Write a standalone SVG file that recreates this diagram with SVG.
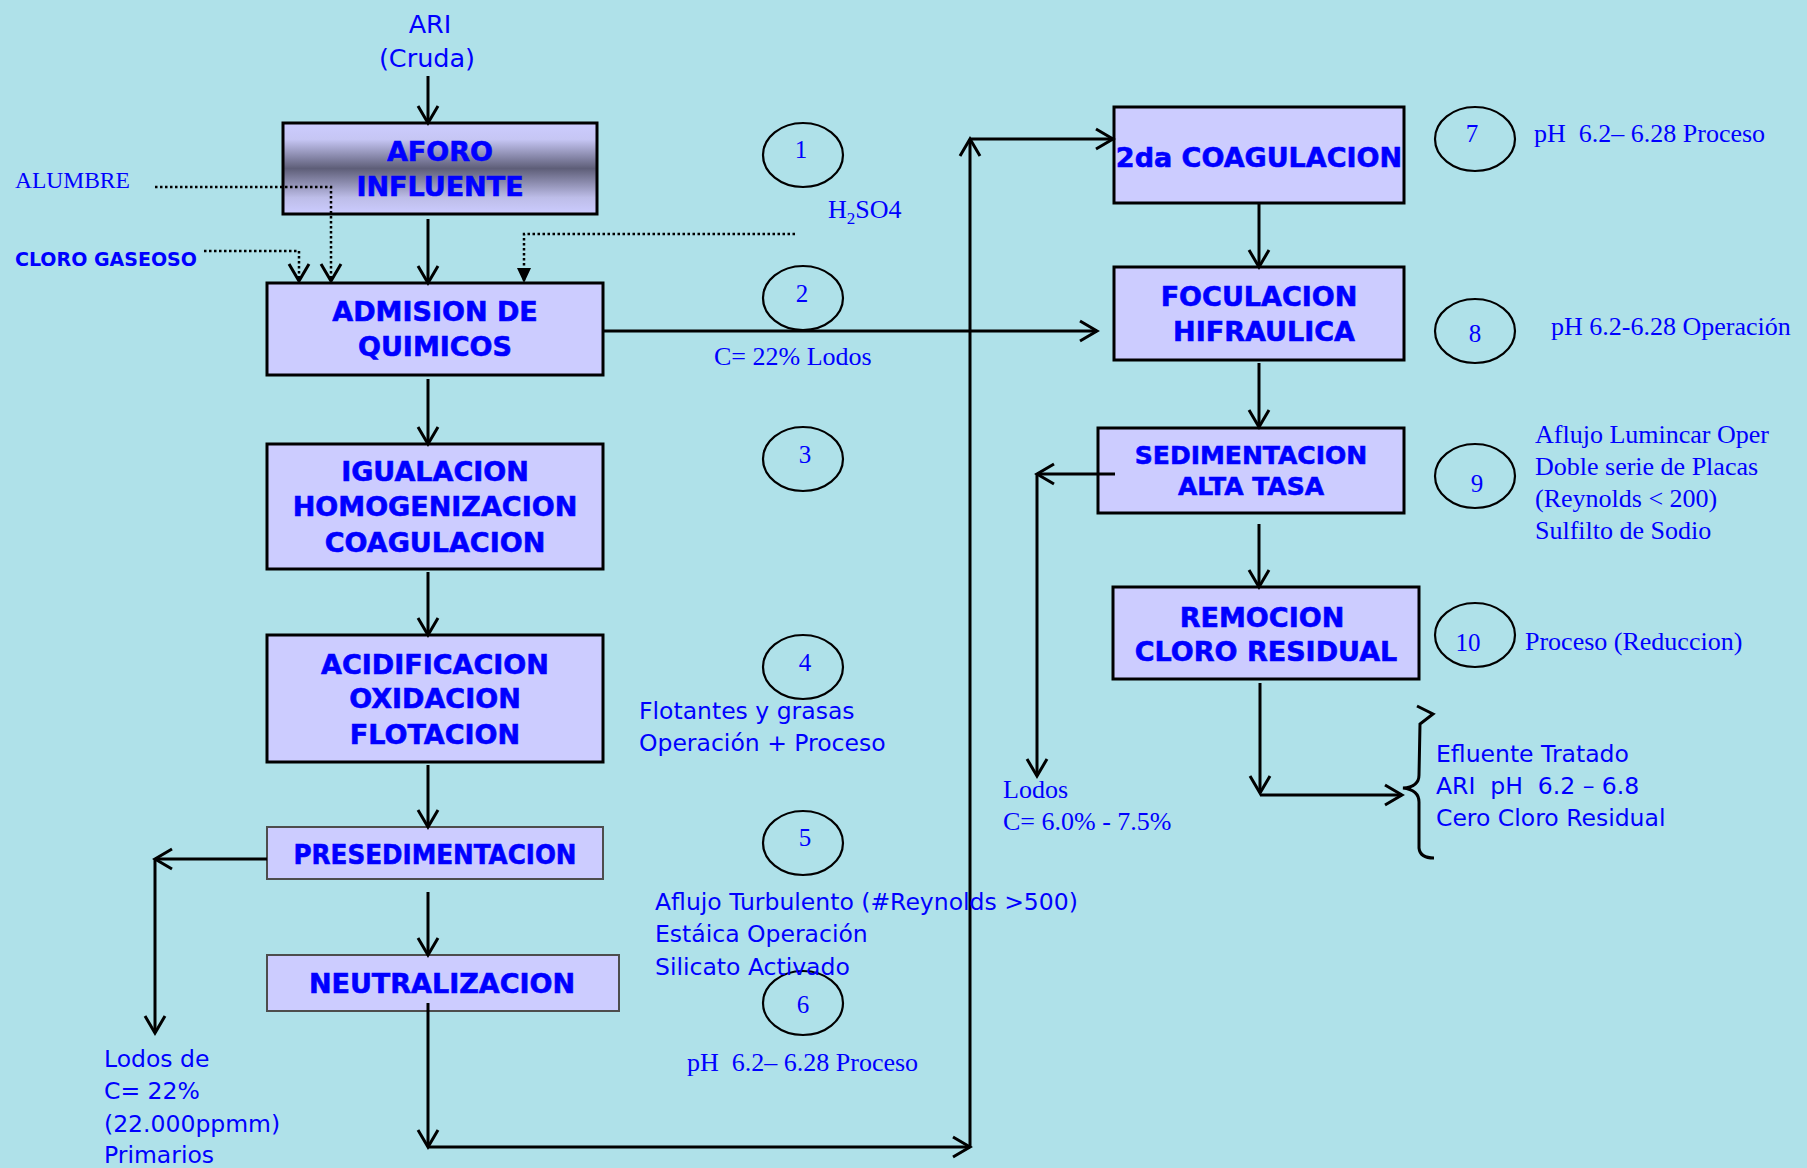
<svg xmlns="http://www.w3.org/2000/svg" width="1807" height="1168" viewBox="0 0 1807 1168">
<defs>
  <linearGradient id="aforoGrad" x1="0" y1="0" x2="0" y2="1">
    <stop offset="0" stop-color="#ccccff"/>
    <stop offset="0.18" stop-color="#c6c6f4"/>
    <stop offset="0.5" stop-color="#5e5e78"/>
    <stop offset="0.82" stop-color="#bdbde8"/>
    <stop offset="1" stop-color="#ccccff"/>
  </linearGradient>
  <marker id="arr" viewBox="-20 -12 22 24" refX="0" refY="0" markerWidth="22" markerHeight="24" markerUnits="userSpaceOnUse" orient="auto" overflow="visible">
    <path d="M-17,-10 L0,0 L-17,10" fill="none" stroke="#000" stroke-width="3"/>
  </marker>
  <marker id="arrFill" viewBox="-16 -8 17 16" refX="0" refY="0" markerWidth="17" markerHeight="16" markerUnits="userSpaceOnUse" orient="auto" overflow="visible">
    <path d="M-15,-7 L0,0 L-15,7 Z" fill="#000"/>
  </marker>
</defs>
<style>
  .box { fill: #ccccff; stroke: #000; stroke-width: 3; }
  .box2 { fill: #ccccff; stroke: #4d4d4d; stroke-width: 2; }
  .nt { font-family: "DejaVu Sans", Verdana, sans-serif; font-weight: bold; font-size: 27px; fill: #0000ff; stroke: #0000ff; stroke-width: 0.6; text-anchor: middle; }
  .st { font-family: "DejaVu Sans", Verdana, sans-serif; font-size: 23.5px; fill: #0000ff; }
  .tm { font-family: "Liberation Serif", "Times New Roman", serif; font-size: 26px; fill: #0000ff; }
  .num { font-family: "Liberation Serif", "Times New Roman", serif; font-size: 25px; fill: #0000ff; text-anchor: middle; }
  .ell { fill: none; stroke: #000; stroke-width: 2.2; }
  .ln { fill: none; stroke: #000; stroke-width: 3; }
  .dot { fill: none; stroke: #000; stroke-width: 2.5; stroke-dasharray: 2.5 2.5; }
</style>
<rect x="0" y="0" width="1807" height="1168" fill="#afe1e9"/>

<!-- nodes -->
<g id="aforo">
  <rect x="283" y="123" width="314" height="91" fill="url(#aforoGrad)" stroke="#000" stroke-width="3"/>
  <text class="nt" x="440" y="161">AFORO</text>
  <text class="nt" x="440" y="196">INFLUENTE</text>
</g>
<g id="admision">
  <rect class="box" x="267" y="283" width="336" height="92"/>
  <text class="nt" x="435" y="321">ADMISION DE</text>
  <text class="nt" x="435" y="356">QUIMICOS</text>
</g>
<g id="igualacion">
  <rect class="box" x="267" y="444" width="336" height="125"/>
  <text class="nt" x="435" y="481">IGUALACION</text>
  <text class="nt" x="435" y="516">HOMOGENIZACION</text>
  <text class="nt" x="435" y="552">COAGULACION</text>
</g>
<g id="acidificacion">
  <rect class="box" x="267" y="635" width="336" height="127"/>
  <text class="nt" x="435" y="674">ACIDIFICACION</text>
  <text class="nt" x="435" y="708">OXIDACION</text>
  <text class="nt" x="435" y="744">FLOTACION</text>
</g>
<g id="presedimentacion">
  <rect class="box2" x="267" y="827" width="336" height="52"/>
  <text class="nt" x="435" y="864" textLength="283" lengthAdjust="spacingAndGlyphs">PRESEDIMENTACION</text>
</g>
<g id="neutralizacion">
  <rect class="box2" x="267" y="955" width="352" height="56"/>
  <text class="nt" x="442" y="993">NEUTRALIZACION</text>
</g>
<g id="coagulacion2">
  <rect class="box" x="1114" y="107" width="290" height="96"/>
  <text class="nt" x="1259" y="167">2da COAGULACION</text>
</g>
<g id="foculacion">
  <rect class="box" x="1114" y="267" width="290" height="93"/>
  <text class="nt" x="1259" y="306">FOCULACION</text>
  <text class="nt" x="1264" y="341">HIFRAULICA</text>
</g>
<g id="sedimentacion">
  <rect class="box" x="1098" y="428" width="306" height="85"/>
  <text class="nt" x="1251" y="464" style="font-size:25px">SEDIMENTACION</text>
  <text class="nt" x="1251" y="495" style="font-size:25px">ALTA TASA</text>
</g>
<g id="remocion">
  <rect class="box" x="1113" y="587" width="306" height="92"/>
  <text class="nt" x="1262" y="627">REMOCION</text>
  <text class="nt" x="1266" y="661">CLORO RESIDUAL</text>
</g>

<!-- numbered markers -->
<g id="m1"><ellipse class="ell" cx="803" cy="155" rx="40" ry="32"/><text class="num" x="801" y="158">1</text></g>
<g id="m2"><ellipse class="ell" cx="803" cy="298" rx="40" ry="32"/><text class="num" x="802" y="302">2</text></g>
<g id="m3"><ellipse class="ell" cx="803" cy="459" rx="40" ry="32"/><text class="num" x="805" y="463">3</text></g>
<g id="m4"><ellipse class="ell" cx="803" cy="667" rx="40" ry="32"/><text class="num" x="805" y="671">4</text></g>
<g id="m5"><ellipse class="ell" cx="803" cy="843" rx="40" ry="32"/><text class="num" x="805" y="846">5</text></g>
<g id="m6"><ellipse class="ell" cx="803" cy="1003" rx="40" ry="32"/><text class="num" x="803" y="1013">6</text></g>
<g id="m7"><ellipse class="ell" cx="1475" cy="139" rx="40" ry="32"/><text class="num" x="1472" y="142">7</text></g>
<g id="m8"><ellipse class="ell" cx="1475" cy="331" rx="40" ry="32"/><text class="num" x="1475" y="342">8</text></g>
<g id="m9"><ellipse class="ell" cx="1475" cy="476" rx="40" ry="32"/><text class="num" x="1477" y="492">9</text></g>
<g id="m10"><ellipse class="ell" cx="1475" cy="635" rx="40" ry="32"/><text class="num" x="1468" y="651">10</text></g>

<!-- connectors -->
<g id="connectors">
  <path class="ln" d="M428,76 V123" marker-end="url(#arr)"/>
  <path class="ln" d="M428,219 V283" marker-end="url(#arr)"/>
  <path class="ln" d="M428,379 V444" marker-end="url(#arr)"/>
  <path class="ln" d="M428,572 V635" marker-end="url(#arr)"/>
  <path class="ln" d="M428,765 V827" marker-end="url(#arr)"/>
  <path class="ln" d="M428,892 V955" marker-end="url(#arr)"/>
  <path class="ln" d="M428,1003 V1147" marker-end="url(#arr)"/>
  <path class="ln" d="M428,1147 H970" marker-end="url(#arr)"/>
  <path class="ln" d="M970,1147 V139" marker-end="url(#arr)"/>
  <path class="ln" d="M970,139 H1113" marker-end="url(#arr)"/>
  <path class="ln" d="M603,331 H1097" marker-end="url(#arr)"/>
  <path class="ln" d="M1259,203 V267" marker-end="url(#arr)"/>
  <path class="ln" d="M1259,363 V427" marker-end="url(#arr)"/>
  <path class="ln" d="M1259,524 V587" marker-end="url(#arr)"/>
  <path class="ln" d="M1260,683 V793" marker-end="url(#arr)"/>
  <path class="ln" d="M1260,795 H1402" marker-end="url(#arr)"/>
  <path class="ln" d="M1115,474 H1037" marker-end="url(#arr)"/>
  <path class="ln" d="M1037,474 V776" marker-end="url(#arr)"/>
  <path class="ln" d="M267,859 H155" marker-end="url(#arr)"/>
  <path class="ln" d="M155,859 V1033" marker-end="url(#arr)"/>
  <path class="dot" d="M155,187 H331 V281" marker-end="url(#arr)"/>
  <path class="dot" d="M204,251 H299 V281" marker-end="url(#arr)"/>
  <path class="dot" d="M795,234 H524 V283" marker-end="url(#arrFill)"/>
  <path class="ln" d="M1417,706 L1433,714 L1420,724 L1419,775 Q1419,787 1403,788 Q1419,790 1419,802 L1419,848 Q1420,858 1434,858" stroke-width="2.5"/>
</g>

<!-- annotations -->
<g id="labels">
  <text class="st" x="430" y="33" text-anchor="middle" style="font-size:25.5px">ARI</text>
  <text class="st" x="427" y="67" text-anchor="middle" style="font-size:25.5px">(Cruda)</text>
  <text class="tm" x="15" y="188" style="font-size:23.5px">ALUMBRE</text>
  <text x="15" y="266" font-family="DejaVu Sans, Verdana, sans-serif" font-weight="bold" font-size="19" fill="#0000ff">CLORO GASEOSO</text>
  <text class="tm" x="828" y="218">H<tspan font-size="17" dy="6">2</tspan><tspan dy="-6">SO4</tspan></text>
  <text class="tm" x="714" y="365">C= 22% Lodos</text>
  <text class="st" x="639" y="719">Flotantes y grasas</text>
  <text class="st" x="639" y="751">Operación + Proceso</text>
  <text class="st" x="655" y="910">Aflujo Turbulento (#Reynolds &gt;500)</text>
  <text class="st" x="655" y="942">Estáica Operación</text>
  <text class="st" x="655" y="975">Silicato Activado</text>
  <text class="tm" x="687" y="1071" xml:space="preserve">pH  6.2– 6.28 Proceso</text>
  <text class="st" x="104" y="1067">Lodos de</text>
  <text class="st" x="104" y="1099">C= 22%</text>
  <text class="st" x="104" y="1132">(22.000ppmm)</text>
  <text class="st" x="104" y="1163">Primarios</text>
  <text class="tm" x="1003" y="798">Lodos</text>
  <text class="tm" x="1003" y="830">C= 6.0% - 7.5%</text>
  <text class="tm" x="1534" y="142" xml:space="preserve">pH  6.2– 6.28 Proceso</text>
  <text class="tm" x="1551" y="335">pH 6.2-6.28 Operación</text>
  <text class="tm" x="1535" y="443">Aflujo Lumincar Oper</text>
  <text class="tm" x="1535" y="475">Doble serie de Placas</text>
  <text class="tm" x="1535" y="507">(Reynolds &lt; 200)</text>
  <text class="tm" x="1535" y="539">Sulfilto de Sodio</text>
  <text class="tm" x="1525" y="650">Proceso (Reduccion)</text>
  <text class="st" x="1436" y="762">Efluente Tratado</text>
  <text class="st" x="1436" y="794" xml:space="preserve">ARI  pH  6.2 – 6.8</text>
  <text class="st" x="1436" y="826">Cero Cloro Residual</text>
</g>
</svg>
